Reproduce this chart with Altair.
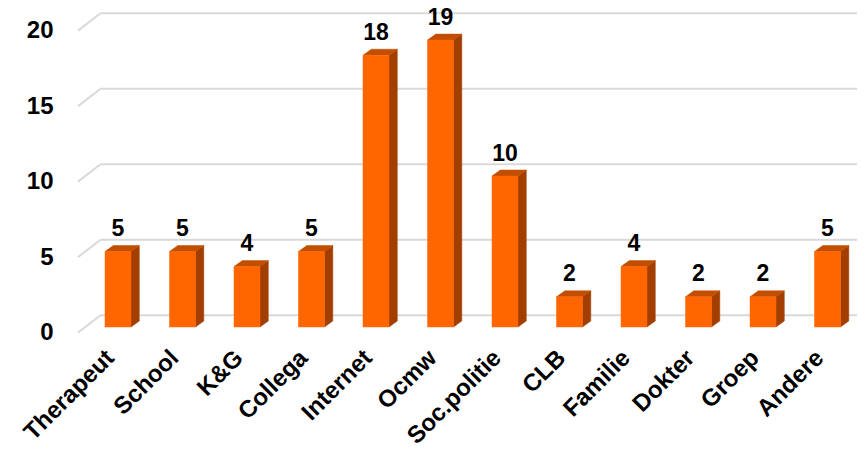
import json
import altair as alt
import pandas as pd

# ---- data ----
categories = ["Therapeut", "School", "K&G", "Collega", "Internet", "Ocmw",
              "Soc.politie", "CLB", "Familie", "Dokter", "Groep", "Andere"]
counts = [5, 5, 4, 5, 18, 19, 10, 2, 4, 2, 2, 5]
grid_ticks = [0, 5, 10, 15, 20]

# ---- layout constants (pixels) ----
W, H = 779, 302
PX_X = 64.5            # pixels per category step
PX_Y = H / 20.0        # pixels per unit
X_LO = -40 / PX_X
X_HI = X_LO + W / PX_X
BAR_HALF = 13 / PX_X
DEPTH_X = 8.3 / PX_X
DEPTH_Y = 6.0 / PX_Y
WALL_X = 22.5 / PX_X
WALL_BACK = 11.7 / PX_Y
WALL_FRONT = 5.6 / PX_Y

FRONT = "#FF6600"
TOP = "#C24E00"
SIDE = "#A23F00"
GRID = "#D9D9D9"
FONT = "Liberation Sans"

xs = alt.Scale(domain=[X_LO, X_HI], nice=False, zero=False)
ys = alt.Scale(domain=[0, 20], nice=False, zero=False)

label_expr = json.dumps(categories) + "[datum.value]"
x_axis = alt.Axis(values=list(range(len(categories))), labelExpr=label_expr,
                  labelAngle=-45, labelAlign="right", labelBaseline="middle",
                  labelPadding=27, labelOffset=-8, ticks=False, domain=False, grid=False,
                  labelFont=FONT, labelFontSize=24, labelFontWeight="bold",
                  labelColor="#000000", title=None, labelOverlap=False)
y_axis = alt.Axis(values=grid_ticks, labelOffset=5.6, labelPadding=25,
                  ticks=False, domain=False, grid=False,
                  labelFont=FONT, labelFontSize=24, labelFontWeight="bold",
                  labelColor="#000000", title=None)

bars = pd.DataFrame({"idx": list(range(len(categories))), "name": categories, "v": counts})
bars["x0"] = bars["idx"] - BAR_HALF
bars["x1"] = bars["idx"] + BAR_HALF

side_rows, top_rows = [], []
for name, v, x0, x1 in zip(bars["name"], bars["v"], bars["x0"], bars["x1"]):
    side_rows.append({"name": name, "x": x1, "y": v, "y2": 0.0})
    side_rows.append({"name": name, "x": x1 + DEPTH_X, "y": v + DEPTH_Y, "y2": DEPTH_Y})
    top_rows.append({"name": name, "x": x0, "y": v, "y2": v})
    top_rows.append({"name": name, "x": x0 + DEPTH_X, "y": v + DEPTH_Y, "y2": v})
    top_rows.append({"name": name, "x": x1, "y": v + DEPTH_Y, "y2": v})
    top_rows.append({"name": name, "x": x1 + DEPTH_X, "y": v + DEPTH_Y, "y2": v + DEPTH_Y})
side = pd.DataFrame(side_rows)
top = pd.DataFrame(top_rows)

grid = pd.DataFrame({"t": grid_ticks})
grid["bx0"] = X_LO + WALL_X
grid["bx1"] = X_HI
grid["by"] = grid["t"] + WALL_BACK
grid["sx0"] = X_LO
grid["sy0"] = grid["t"] - WALL_FRONT

back_lines = alt.Chart(grid).mark_rule(color=GRID, strokeWidth=2).encode(
    x=alt.X("bx0:Q", scale=xs, axis=x_axis),
    x2="bx1:Q",
    y=alt.Y("by:Q", scale=ys, axis=y_axis),
)
slant_lines = alt.Chart(grid).mark_rule(color=GRID, strokeWidth=2).encode(
    x=alt.X("sx0:Q", scale=xs, axis=x_axis),
    x2="bx0:Q",
    y=alt.Y("sy0:Q", scale=ys, axis=y_axis),
    y2="by:Q",
)

side_faces = alt.Chart(side).mark_area(color=SIDE, stroke=SIDE, strokeWidth=0.5).encode(
    x=alt.X("x:Q", scale=xs, axis=x_axis),
    y=alt.Y("y:Q", scale=ys, axis=y_axis),
    y2="y2:Q",
    detail="name:N",
)
top_faces = alt.Chart(top).mark_area(color=TOP, stroke=TOP, strokeWidth=0.5).encode(
    x=alt.X("x:Q", scale=xs, axis=x_axis),
    y=alt.Y("y:Q", scale=ys, axis=y_axis),
    y2="y2:Q",
    detail="name:N",
)

front_faces = alt.Chart(bars).mark_bar(color=FRONT, stroke=FRONT, strokeWidth=0.5).encode(
    x=alt.X("x0:Q", scale=xs, axis=x_axis),
    x2="x1:Q",
    y=alt.Y("v:Q", scale=ys, axis=y_axis),
    y2=alt.datum(0),
)

value_labels = alt.Chart(bars).mark_text(
    font=FONT, fontSize=23, fontWeight="bold", color="#000000",
    baseline="alphabetic", dy=-15.5,
).encode(
    x=alt.X("idx:Q", scale=xs, axis=x_axis),
    y=alt.Y("v:Q", scale=ys, axis=y_axis),
    text="v:Q",
)

chart = alt.layer(back_lines, slant_lines, side_faces, top_faces, front_faces, value_labels).properties(
    width=W, height=H,
    autosize=alt.AutoSizeParams(type="none"),
    padding={"left": 70, "top": 17, "right": 0, "bottom": 124},
    background="#FFFFFF",
).configure_view(stroke=None)

chart.save("out.html", embed_options={"renderer": "svg", "actions": False})
